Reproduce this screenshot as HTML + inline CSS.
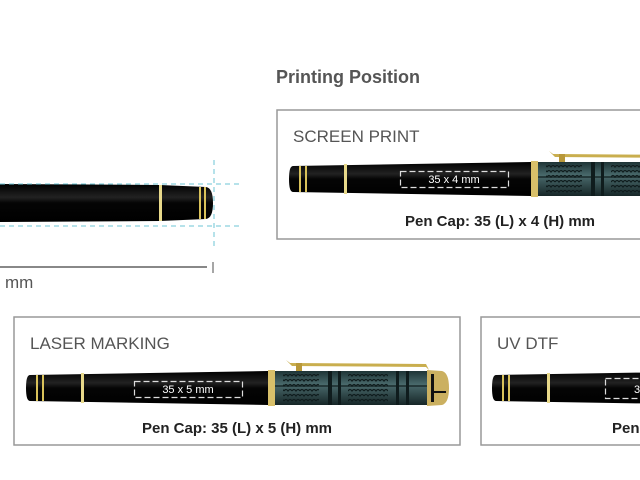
<!DOCTYPE html>
<html><head><meta charset="utf-8"><style>
html,body{margin:0;padding:0;background:#fff;}
svg{display:block;}
text{font-family:"Liberation Sans",sans-serif;}
</style></head><body>
<svg width="640" height="480" viewBox="0 0 640 480" xmlns="http://www.w3.org/2000/svg">
<defs>
<linearGradient id="blk" x1="0" y1="0" x2="0" y2="1">
<stop offset="0" stop-color="#000"/><stop offset="0.35" stop-color="#222"/><stop offset="0.5" stop-color="#050505"/><stop offset="1" stop-color="#000"/>
</linearGradient>
<linearGradient id="grn" x1="0" y1="0" x2="0" y2="1">
<stop offset="0" stop-color="#1e3436"/><stop offset="0.4" stop-color="#4a6a6c"/><stop offset="1" stop-color="#162627"/>
</linearGradient>
<pattern id="wave" width="8" height="5" patternUnits="userSpaceOnUse">
<path d="M0,3 Q2,0 4,3 Q6,0 8,3" stroke="#0f1c1d" stroke-width="1.2" fill="none"/>
</pattern>
<g id="pen">
<path d="M0,-13 Q-4,-13 -4,0 Q-4,13 0,13 L238,17 L238,-17 Z" fill="url(#blk)"/>
<rect x="6" y="-13" width="2" height="26" fill="#d9c25a"/>
<rect x="12" y="-13" width="2" height="26" fill="#d9c25a"/>
<rect x="51" y="-15" width="3" height="30" fill="#e8d98a"/>
<g transform="translate(-2,0)">
<rect x="240" y="-18" width="7" height="36" fill="#d8c06a"/>
<rect x="247" y="-17" width="152" height="34" fill="url(#grn)"/>
<rect x="255" y="-14" width="36" height="28" fill="url(#wave)"/>
<rect x="300" y="-17" width="4" height="34" fill="#0f1c1d"/>
<rect x="310" y="-17" width="3" height="34" fill="#0f1c1d"/>
<rect x="320" y="-14" width="40" height="28" fill="url(#wave)"/>
<rect x="368" y="-17" width="3" height="34" fill="#0f1c1d"/>
<rect x="378" y="-17" width="3" height="34" fill="#0f1c1d"/>
<rect x="247" y="-3" width="152" height="2" fill="#0f1c1d" opacity="0.6"/>
<path d="M399,-18 L414,-17 Q421,-15 421,0 Q421,15 414,17 L399,18 Z" fill="#cbb060"/>
<rect x="403" y="-14" width="3" height="28" fill="#111"/>
<rect x="406" y="3" width="12" height="2" fill="#111"/>
<path d="M258,-28 L262,-25 L398,-24 L401,-18 L398,-21 L264,-22 Z" fill="#c9ae4e"/>
<rect x="268" y="-25" width="6" height="8" fill="#b8983a"/>
</g>
</g>
</defs>

<path d="M0,184 L160,185 L206,187 Q213,188 213,203 Q213,218 206,219 L160,221 L0,222 Z" fill="url(#blk)"/>
<rect x="159" y="185" width="3" height="36" fill="#e8d98a"/>
<rect x="199" y="187" width="2" height="32" fill="#d9c25a"/>
<rect x="204" y="187" width="2" height="32" fill="#d9c25a"/>
<line x1="0" y1="184" x2="243" y2="184" stroke="#6ec6d4" stroke-width="1" stroke-dasharray="5,4"/>
<line x1="0" y1="226" x2="243" y2="226" stroke="#6ec6d4" stroke-width="1" stroke-dasharray="5,4"/>
<line x1="214" y1="160" x2="214" y2="250" stroke="#6ec6d4" stroke-width="1" stroke-dasharray="5,4"/>
<line x1="0" y1="267" x2="207" y2="267" stroke="#888" stroke-width="2"/>
<line x1="213" y1="262" x2="213" y2="273" stroke="#888" stroke-width="1.5"/>
<text x="5" y="288" font-size="17" fill="#555">mm</text>

<text x="276" y="83" font-size="18" font-weight="bold" fill="#555">Printing Position</text>

<rect x="277" y="110" width="380" height="129" fill="none" stroke="#999" stroke-width="1.5"/>
<text x="293" y="142" font-size="17" fill="#555">SCREEN PRINT</text>
<use href="#pen" x="293" y="179"/>
<rect x="400.5" y="171.5" width="108" height="16" fill="none" stroke="#ddd" stroke-width="1.2" stroke-dasharray="6,3"/>
<text x="454" y="183" font-size="11" fill="#fff" text-anchor="middle">35 x 4 mm</text>
<text x="500" y="226" font-size="15" font-weight="bold" fill="#222" text-anchor="middle">Pen Cap: 35 (L) x 4 (H) mm</text>

<rect x="14" y="317" width="446" height="128" fill="none" stroke="#999" stroke-width="1.5"/>
<text x="30" y="349" font-size="17" fill="#555">LASER MARKING</text>
<use href="#pen" x="30" y="388"/>
<rect x="134.5" y="381.5" width="108" height="16" fill="none" stroke="#ddd" stroke-width="1.2" stroke-dasharray="6,3"/>
<text x="188" y="393" font-size="11" fill="#fff" text-anchor="middle">35 x 5 mm</text>
<text x="237" y="433" font-size="15" font-weight="bold" fill="#222" text-anchor="middle">Pen Cap: 35 (L) x 5 (H) mm</text>

<rect x="481" y="317" width="200" height="128" fill="none" stroke="#999" stroke-width="1.5"/>
<text x="497" y="349" font-size="17" fill="#555">UV DTF</text>
<use href="#pen" x="496" y="388"/>
<rect x="605.5" y="378.5" width="60" height="20" fill="none" stroke="#ddd" stroke-width="1.2" stroke-dasharray="6,3"/>
<text x="634" y="393" font-size="11" fill="#fff">35</text>
<text x="612" y="433" font-size="15" font-weight="bold" fill="#222">Pen Cap</text>
</svg>
</body></html>
